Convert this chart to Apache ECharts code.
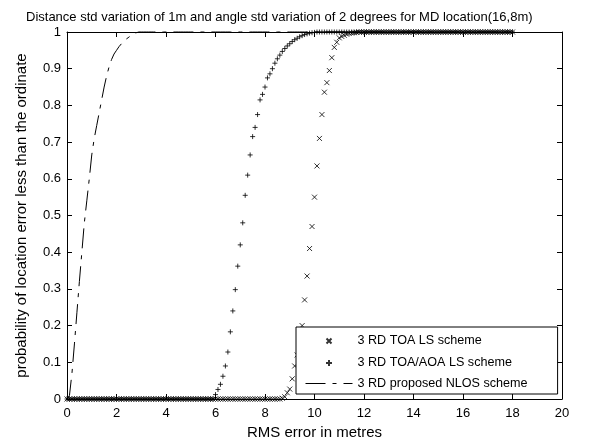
<!DOCTYPE html>
<html>
<head>
<meta charset="utf-8">
<script src="https://cdn.jsdelivr.net/npm/echarts@6/dist/echarts.min.js"></script>
<style>
  html, body { margin: 0; padding: 0; background: #fff; }
  #chart { width: 601px; height: 439px; }
</style>
</head>
<body>
<div id="chart"></div>
<script>
// RMS error grid (metres) on which the three CDFs are sampled
const rmsError = [
  0,0.1,0.2,0.3,0.4,0.5,0.6,0.7,0.8,0.9,
  1,1.1,1.2,1.3,1.4,1.5,1.6,1.7,1.8,1.9,
  2,2.1,2.2,2.3,2.4,2.5,2.6,2.7,2.8,2.9,
  3,3.1,3.2,3.3,3.4,3.5,3.6,3.7,3.8,3.9,
  4,4.1,4.2,4.3,4.4,4.5,4.6,4.7,4.8,4.9,
  5,5.1,5.2,5.3,5.4,5.5,5.6,5.7,5.8,5.9,
  6,6.1,6.2,6.3,6.4,6.5,6.6,6.7,6.8,6.9,
  7,7.1,7.2,7.3,7.4,7.5,7.6,7.7,7.8,7.9,
  8,8.1,8.2,8.3,8.4,8.5,8.6,8.7,8.8,8.9,
  9,9.1,9.2,9.3,9.4,9.5,9.6,9.7,9.8,9.9,
  10,10.1,10.2,10.3,10.4,10.5,10.6,10.7,10.8,10.9,
  11,11.1,11.2,11.3,11.4,11.5,11.6,11.7,11.8,11.9,
  12,12.1,12.2,12.3,12.4,12.5,12.6,12.7,12.8,12.9,
  13,13.1,13.2,13.3,13.4,13.5,13.6,13.7,13.8,13.9,
  14,14.1,14.2,14.3,14.4,14.5,14.6,14.7,14.8,14.9,
  15,15.1,15.2,15.3,15.4,15.5,15.6,15.7,15.8,15.9,
  16,16.1,16.2,16.3,16.4,16.5,16.6,16.7,16.8,16.9,
  17,17.1,17.2,17.3,17.4,17.5,17.6,17.7,17.8,17.9,
  18
];

// 3 RD TOA LS scheme
const toaLs = [
  0,0,0,0,0,0,0,0,0,0,
  0,0,0,0,0,0,0,0,0,0,
  0,0,0,0,0,0,0,0,0,0,
  0,0,0,0,0,0,0,0,0,0,
  0,0,0,0,0,0,0,0,0,0,
  0,0,0,0,0,0,0,0,0,0,
  0,0,0,0,0,0,0,0,0,0,
  0,0,0,0,0,0,0,0,0,0,
  0,0,0,0,0,0,0,0.002,0.006,0.017,
  0.027,0.055,0.09,0.12,0.16,0.2,0.27,0.335,0.41,0.47,
  0.55,0.635,0.71,0.775,0.836,0.862,0.895,0.93,0.958,0.972,
  0.984,0.988,0.991,0.994,0.996,0.997,0.998,0.999,1,1,
  1,1,1,1,1,1,1,1,1,1,
  1,1,1,1,1,1,1,1,1,1,
  1,1,1,1,1,1,1,1,1,1,
  1,1,1,1,1,1,1,1,1,1,
  1,1,1,1,1,1,1,1,1,1,
  1,1,1,1,1,1,1,1,1,1,
  1
];

// 3 RD TOA/AOA LS scheme
const toaAoaLs = [
  0,0,0,0,0,0,0,0,0,0,
  0,0,0,0,0,0,0,0,0,0,
  0,0,0,0,0,0,0,0,0,0,
  0,0,0,0,0,0,0,0,0,0,
  0,0,0,0,0,0,0,0,0,0,
  0,0,0,0,0,0,0,0,0,0,
  0.012,0.026,0.04,0.062,0.09,0.128,0.183,0.24,0.298,0.362,
  0.42,0.48,0.555,0.61,0.665,0.715,0.74,0.775,0.815,0.83,
  0.85,0.875,0.886,0.9,0.915,0.927,0.937,0.947,0.955,0.962,
  0.968,0.974,0.979,0.983,0.987,0.99,0.993,0.995,0.997,0.998,
  0.999,1,1,1,1,1,1,1,1,1,
  1,1,1,1,1,1,1,1,1,1,
  1,1,1,1,1,1,1,1,1,1,
  1,1,1,1,1,1,1,1,1,1,
  1,1,1,1,1,1,1,1,1,1,
  1,1,1,1,1,1,1,1,1,1,
  1,1,1,1,1,1,1,1,1,1,
  1,1,1,1,1,1,1,1,1,1,
  1
];

// 3 RD proposed NLOS scheme
const proposedNlos = [
  0,0.01,0.07,0.15,0.235,0.32,0.40,0.48,0.54,0.60,
  0.665,0.71,0.745,0.78,0.815,0.85,0.88,0.905,0.925,0.94,
  0.95,0.96,0.968,0.975,0.981,0.986,0.991,0.995,0.998,1,
  1,1,1,1,1,1,1,1,1,1,
  1,1,1,1,1,1,1,1,1,1,
  1,1,1,1,1,1,1,1,1,1,
  1,1,1,1,1,1,1,1,1,1,
  1,1,1,1,1,1,1,1,1,1,
  1,1,1,1,1,1,1,1,1,1,
  1,1,1,1,1,1,1,1,1,1,
  1,1,1,1,1,1,1,1,1,1,
  1,1,1,1,1,1,1,1,1,1,
  1,1,1,1,1,1,1,1,1,1,
  1,1,1,1,1,1,1,1,1,1,
  1,1,1,1,1,1,1,1,1,1,
  1,1,1,1,1,1,1,1,1,1,
  1,1,1,1,1,1,1,1,1,1,
  1,1,1,1,1,1,1,1,1,1,
  1
];

const seriesNames = ['3 RD TOA LS scheme', '3 RD TOA/AOA LS scheme', '3 RD proposed NLOS scheme'];
const xTicks = { min: 0, max: 20, interval: 2 };
const yTicks = { min: 0, max: 1, interval: 0.1 };

const FONT = '"Liberation Sans", Arial, Helvetica, sans-serif';
const CROSS = 'path://M0,0L10,10M10,0L0,10';
const PLUS = 'path://M5,0L5,10M0,5L10,5';
// legend keys: same glyphs, padded inside a larger box so they stay small
const CROSS_KEY = 'path://M0,0M14,14M4.5,4.5L9.5,9.5M9.5,4.5L4.5,9.5';
const PLUS_KEY = 'path://M0,0M14,14M7,4L7,10M4,7L10,7';
const DASH_DOT = [20, 7, 4, 7];

const pairs = ys => rmsError.map((x, i) => [x, ys[i]]);

const axisCommon = {
  axisLine: { show: true, onZero: false, lineStyle: { color: '#000', width: 1 } },
  axisTick: { show: true, inside: true, length: 5, lineStyle: { color: '#000', width: 1 } },
  splitLine: { show: false }
};

const chart = echarts.init(document.getElementById('chart'), null, { renderer: 'canvas' });
chart.setOption({
  animation: false,
  backgroundColor: '#fff',
  title: {
    text: 'Distance std variation of 1m and angle std variation of 2 degrees for MD location(16,8m)',
    left: 21, top: 6,
    textStyle: { fontFamily: FONT, fontSize: 13, fontWeight: 'normal', color: '#000' }
  },
  grid: { left: 67, right: 39, top: 32, bottom: 40, containLabel: false, outerBoundsMode: 'none' },
  xAxis: [
    Object.assign({
      type: 'value', position: 'bottom', min: xTicks.min, max: xTicks.max, interval: xTicks.interval,
      name: 'RMS error in metres', nameLocation: 'middle', nameGap: 20,
      nameTextStyle: { fontFamily: FONT, fontSize: 15, color: '#000' },
      axisLabel: { fontFamily: FONT, fontSize: 13, color: '#000', margin: 8 }
    }, axisCommon),
    Object.assign({
      type: 'value', position: 'top', min: xTicks.min, max: xTicks.max, interval: xTicks.interval,
      axisLabel: { show: false }
    }, axisCommon)
  ],
  yAxis: [
    Object.assign({
      type: 'value', position: 'left', min: yTicks.min, max: yTicks.max, interval: yTicks.interval,
      name: 'probability of location error less than the ordinate', nameLocation: 'middle', nameGap: 38,
      nameTextStyle: { fontFamily: FONT, fontSize: 15, color: '#000' },
      axisLabel: { fontFamily: FONT, fontSize: 13, color: '#000', margin: 6 }
    }, axisCommon),
    Object.assign({
      type: 'value', position: 'right', min: yTicks.min, max: yTicks.max, interval: yTicks.interval,
      axisLabel: { show: false }
    }, axisCommon)
  ],
  legend: {
    orient: 'vertical',
    left: 296, top: 327,
    padding: [6, 30, 4, 9],
    itemWidth: 47, itemHeight: 14, itemGap: 6,
    backgroundColor: '#fff',
    borderColor: '#000', borderWidth: 1, borderRadius: 0,
    z: 10,
    selectedMode: false,
    textStyle: { fontFamily: FONT, fontSize: 12.6, color: '#000' },
    data: [
      { name: seriesNames[0], icon: CROSS_KEY },
      { name: seriesNames[1], icon: PLUS_KEY },
      {
        name: seriesNames[2],
        itemStyle: { color: 'transparent', borderColor: 'transparent', borderWidth: 0, opacity: 0 },
        lineStyle: { color: '#000', width: 1, type: DASH_DOT }
      }
    ]
  },
  series: [
    {
      name: seriesNames[0], type: 'scatter', data: pairs(toaLs),
      symbol: CROSS, symbolSize: 5, clip: false,
      itemStyle: { color: 'transparent', borderColor: '#000', borderWidth: 1 }
    },
    {
      name: seriesNames[1], type: 'scatter', data: pairs(toaAoaLs),
      symbol: PLUS, symbolSize: 5, clip: false,
      itemStyle: { color: 'transparent', borderColor: '#000', borderWidth: 1 }
    },
    {
      name: seriesNames[2], type: 'line', data: pairs(proposedNlos),
      showSymbol: false, symbol: 'none', clip: false,
      lineStyle: { color: '#000', width: 1, type: DASH_DOT },
      itemStyle: { color: '#000' }
    }
  ]
});
</script>
</body>
</html>
